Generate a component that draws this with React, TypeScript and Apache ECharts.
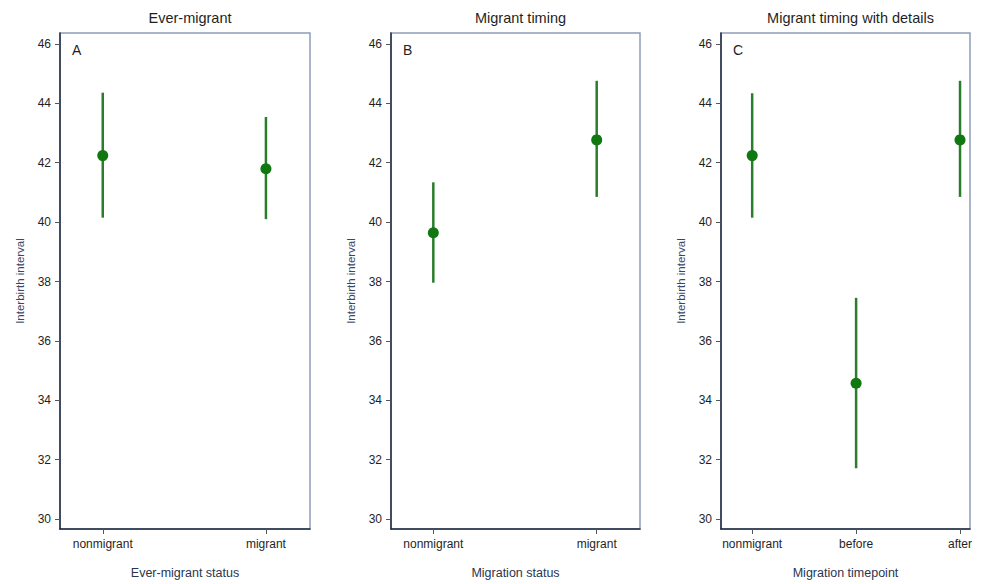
import React, { useEffect, useRef } from "react";
import * as echarts from "echarts";

const panelTitles = ["Ever-migrant", "Migrant timing", "Migrant timing with details"];
const panelLetters = ["A", "B", "C"];
const xTitles = ["Ever-migrant status", "Migration status", "Migration timepoint"];
const yTitle = "Interbirth interval";

const catsA = ["nonmigrant", "migrant"];
const meanA = [42.24, 41.8];
const lowA = [40.15, 40.1];
const highA = [44.36, 43.54];

const catsB = ["nonmigrant", "migrant"];
const meanB = [39.64, 42.77];
const lowB = [37.96, 40.85];
const highB = [41.34, 44.76];

const catsC = ["nonmigrant", "before", "after"];
const meanC = [42.24, 34.57, 42.77];
const lowC = [40.15, 31.71, 40.85];
const highC = [44.34, 37.45, 44.76];

const yTicks = [30, 32, 34, 36, 38, 40, 42, 44, 46];

const FONT = "Liberation Sans, Arial, Helvetica, sans-serif";
const GREEN_LINE = "#2b7d2b";
const GREEN_DOT = "#117711";
const DARK = "#1e2a3c";
const LIGHT = "#8e9dba";

export default function App() {
  const ref = useRef<HTMLDivElement>(null);
  useEffect(() => {
    if (!ref.current) return;
    const chart = echarts.init(ref.current, null, { renderer: "svg" });

    const panels = [
      { cats: catsA, mean: meanA, low: lowA, high: highA, left: 60, width: 250, xmin: -0.262, xmax: 1.27 },
      { cats: catsB, mean: meanB, low: lowB, high: highB, left: 391, width: 249, xmin: -0.259, xmax: 1.265 },
      { cats: catsC, mean: meanC, low: lowC, high: highC, left: 721, width: 249, xmin: -0.30, xmax: 2.096 },
    ];

    const grid: any[] = [];
    const xAxis: any[] = [];
    const yAxis: any[] = [];
    const series: any[] = [];
    const title: any[] = [];

    panels.forEach((p, i) => {
      grid.push({
        left: p.left,
        top: 33,
        width: p.width,
        height: 497,
        show: true,
        borderColor: LIGHT,
        borderWidth: 1.5,
        backgroundColor: "#ffffff",
      });
      const xCustom = p.cats.map((_, k) => k);
      xAxis.push({
        gridIndex: i,
        type: "value",
        min: p.xmin,
        max: p.xmax,
        splitLine: { show: false },
        axisLine: { show: true, onZero: false, lineStyle: { color: DARK, width: 1.5 } },
        axisTick: { show: true, customValues: xCustom, length: 5, lineStyle: { color: "#555", width: 1 } },
        axisLabel: {
          customValues: xCustom,
          margin: 9,
          fontSize: 12,
          color: "#1f1f1f",
          fontFamily: FONT,
          formatter: (v: number) => p.cats[Math.round(v)] ?? "",
        },
        name: xTitles[i],
        nameLocation: "middle",
        nameGap: 37,
        nameTextStyle: { fontSize: 12.5, color: "#2a3550", fontFamily: FONT },
      });
      yAxis.push({
        gridIndex: i,
        type: "value",
        min: 29.664,
        max: 46.37,
        splitLine: { show: false },
        axisLine: { show: true, onZero: false, lineStyle: { color: DARK, width: 1.5 } },
        axisTick: { show: true, customValues: yTicks, length: 5, lineStyle: { color: "#555", width: 1 } },
        axisLabel: {
          customValues: yTicks,
          margin: 9,
          fontSize: 12,
          color: "#1f1f1f",
          fontFamily: FONT,
        },
        name: yTitle,
        nameLocation: "middle",
        nameGap: 34,
        nameRotate: 90,
        nameTextStyle: { fontSize: 11.5, color: "#3a4868", fontFamily: FONT },
      });

      const errData = p.cats.map((_, k) => [k, p.low[k], p.high[k]]);
      series.push({
        type: "custom",
        xAxisIndex: i,
        yAxisIndex: i,
        data: errData,
        renderItem: (params: any, api: any) => {
          const x = api.value(0);
          const a = api.coord([x, api.value(1)]);
          const b = api.coord([x, api.value(2)]);
          return {
            type: "line",
            shape: { x1: a[0], y1: a[1], x2: b[0], y2: b[1] },
            style: { stroke: GREEN_LINE, lineWidth: 2.5 },
          };
        },
        z: 2,
      });
      series.push({
        type: "scatter",
        xAxisIndex: i,
        yAxisIndex: i,
        data: p.cats.map((_, k) => [k, p.mean[k]]),
        symbol: "circle",
        symbolSize: 11,
        itemStyle: { color: GREEN_DOT, opacity: 1 },
        z: 3,
      });

      title.push({
        text: panelTitles[i],
        left: p.left + p.width / 2,
        top: 5,
        textAlign: "center",
        textStyle: { fontSize: 14.5, fontWeight: "normal", color: "#1f1f1f", fontFamily: FONT },
      });
      title.push({
        text: panelLetters[i],
        left: p.left + 7,
        top: 38,
        textStyle: { fontSize: 14, fontWeight: "normal", color: "#1f1f1f", fontFamily: FONT },
      });
    });

    chart.setOption({
      animation: false,
      backgroundColor: "#ffffff",
      title,
      grid,
      xAxis,
      yAxis,
      series,
    });
    return () => chart.dispose();
  }, []);

  return (
    <div
      ref={ref}
      style={{ position: "fixed", left: 0, top: 0, width: 982, height: 584, background: "#fff" }}
    />
  );
}
